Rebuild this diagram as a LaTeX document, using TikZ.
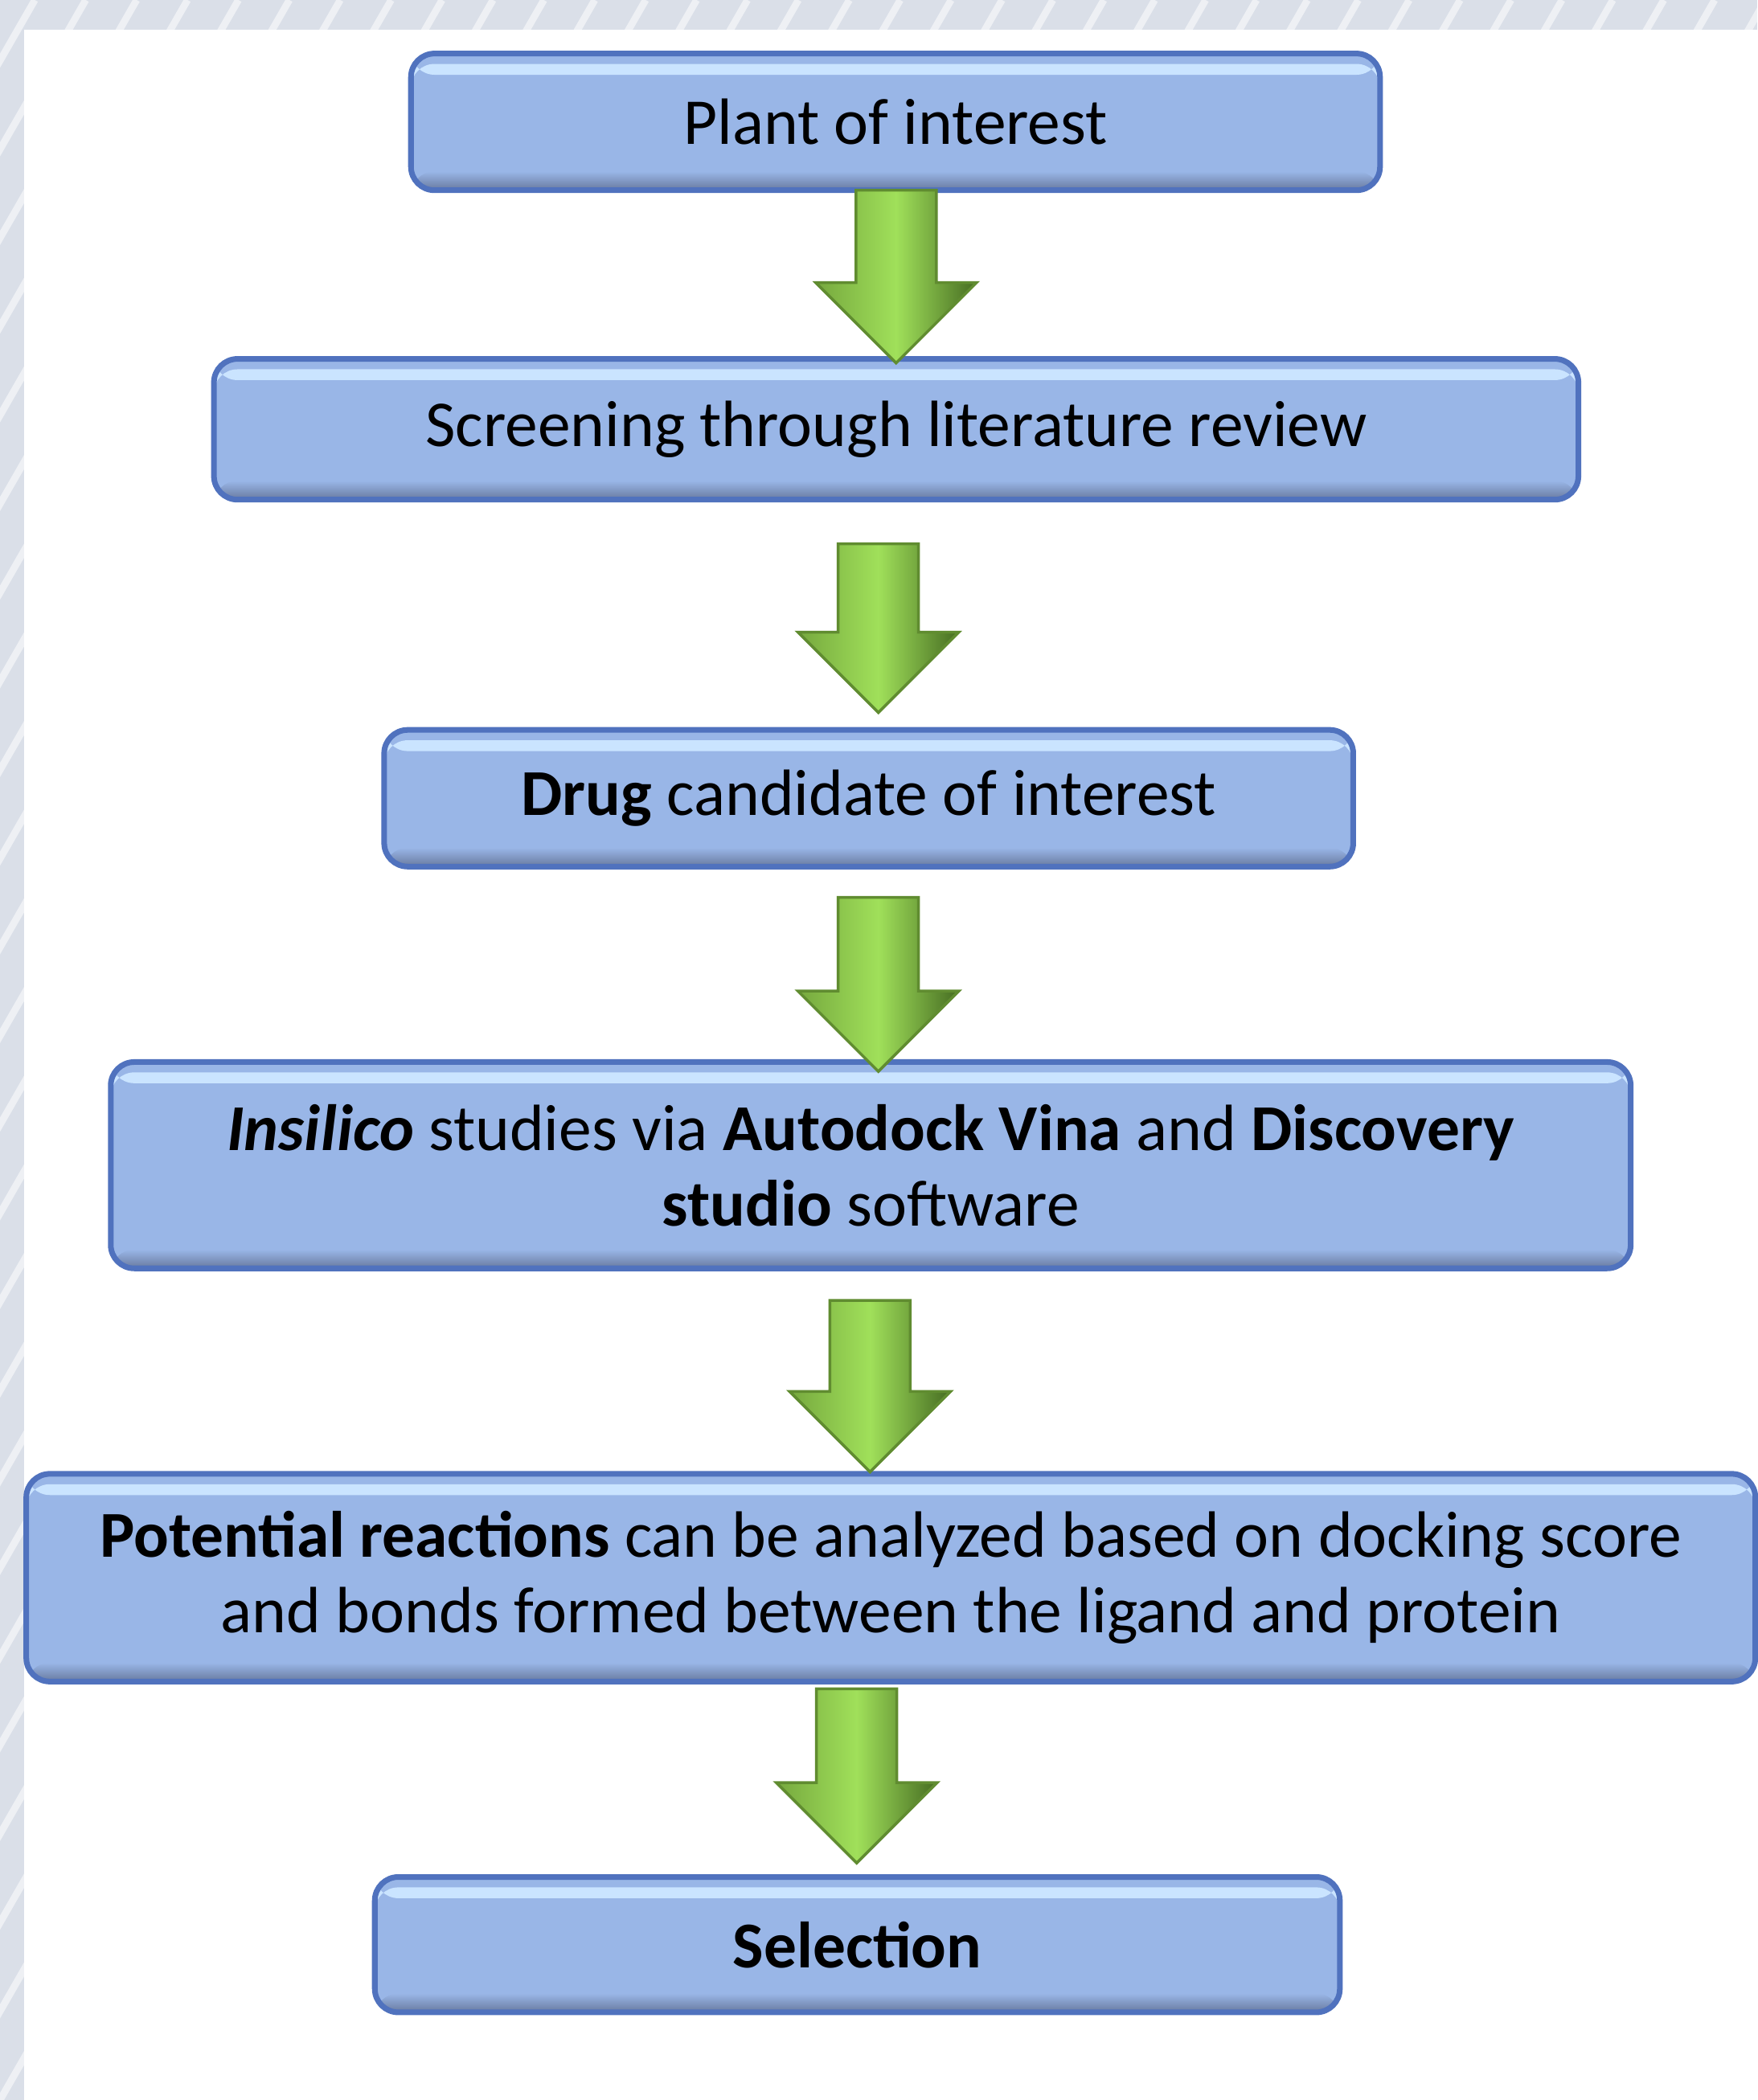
\documentclass[tikz,border=0pt]{standalone}
\usepackage{fontspec}
\setmainfont{Carlito}
\usepackage{tikz}
\usetikzlibrary{
    arrows.meta,
    positioning,
    calc
}
\definecolor{Cbg}{RGB}{218, 223, 232}
\definecolor{Cfill}{RGB}{153, 182, 231}
\definecolor{Cedge}{RGB}{80, 114, 190}
\definecolor{Chigh}{RGB}{202, 228, 255}
\definecolor{Clow}{RGB}{104, 121, 158}
\definecolor{Gleft}{RGB}{118, 168, 62}
\definecolor{Gmid}{RGB}{160, 224, 90}
\definecolor{Gright}{RGB}{70, 108, 34}
\definecolor{Gedge}{RGB}{96, 140, 48}
\newcommand{\boxfont}{\fontsize{13.9}{16}\selectfont}
\tikzset{
    pbox/.style={
        rectangle, rounded corners=5pt, draw=Cedge, line width=1.2pt,
        fill=Cfill, text=black, align=center, font=\boxfont, inner sep=4pt,
        path picture={
            \fill[Chigh] ([yshift=-2.2pt]path picture bounding box.north west)
                rectangle ([yshift=-4.5pt]path picture bounding box.north east);
            \shade[top color=Cfill, bottom color=Clow]
                ([yshift=4pt]path picture bounding box.south west)
                rectangle (path picture bounding box.south east);
        }
    },
    garr/.style={
        left color=Gleft, right color=Gright, middle color=Gmid,
        draw=Gedge, line width=0.6pt
    },
}
% block arrow from #1 (top of shaft) to #2 (tip)
\newcommand{\greenarrow}[2]{%
    \path[garr] let \p1=(#1), \p2=(#2) in
        (\x1-0.3cm,\y1) -- (\x1+0.3cm,\y1) -- (\x1+0.3cm,\y2+0.6cm)
        -- (\x1+0.6cm,\y2+0.6cm) -- (\x1,\y2) -- (\x1-0.6cm,\y2+0.6cm)
        -- (\x1-0.3cm,\y2+0.6cm) -- cycle;
}

\begin{document}
\begin{tikzpicture}[x=0.01cm, y=-0.01cm]

    \useasboundingbox (0,0) rectangle (1312,1568);
    % backdrop
    \fill[Cbg] (0,0) rectangle (1312,1568);
    \begin{scope}
        \clip (0,0) rectangle (1312,1568);
        \foreach \k in {-30,...,40}
            \draw[white, line width=1.5pt, opacity=0.55] (\k*38,1568) -- ++(900,-1568);
    \end{scope}
    \fill[white] (18,22) rectangle (1312,1568);

    \node [pbox, minimum width=7.23cm, minimum height=1.02cm]
        (plant) at (668.5,91) {Plant of interest};
    \node [pbox, minimum width=10.18cm, minimum height=1.05cm]
        (screen) at (669,320.5) {Screening through literature review};
    \node [pbox, minimum width=7.23cm, minimum height=1.02cm]
        (drug) at (648.5,596) {\textbf{Drug} candidate of interest};
    \node [pbox, minimum width=11.34cm, minimum height=1.54cm]
        (insilico) at (650,870) {\textbf{\textit{Insilico}} studies via \textbf{Autodock Vina} and \textbf{Discovery} \\ \textbf{studio} software};
    \node [pbox, minimum width=12.9cm, minimum height=1.55cm]
        (react) at (665,1178) {\textbf{Potential reactions} can be analyzed based on docking score \\ and bonds formed between the ligand and protein};
    \node [pbox, minimum width=7.2cm, minimum height=1.01cm]
        (select) at (640,1452) {\textbf{Selection}};

    \coordinate (a1s) at (669,142);    \coordinate (a1e) at (669,271);
    \coordinate (a2s) at (655.7,406);  \coordinate (a2e) at (655.7,532);
    \coordinate (a3s) at (655.7,670);  \coordinate (a3e) at (655.7,800);
    \coordinate (a4s) at (649.5,971);  \coordinate (a4e) at (649.5,1099);
    \coordinate (a5s) at (639.5,1261); \coordinate (a5e) at (639.5,1391);

    \greenarrow{a1s}{a1e}
    \greenarrow{a2s}{a2e}
    \greenarrow{a3s}{a3e}
    \greenarrow{a4s}{a4e}
    \greenarrow{a5s}{a5e}

\end{tikzpicture}
\end{document}
